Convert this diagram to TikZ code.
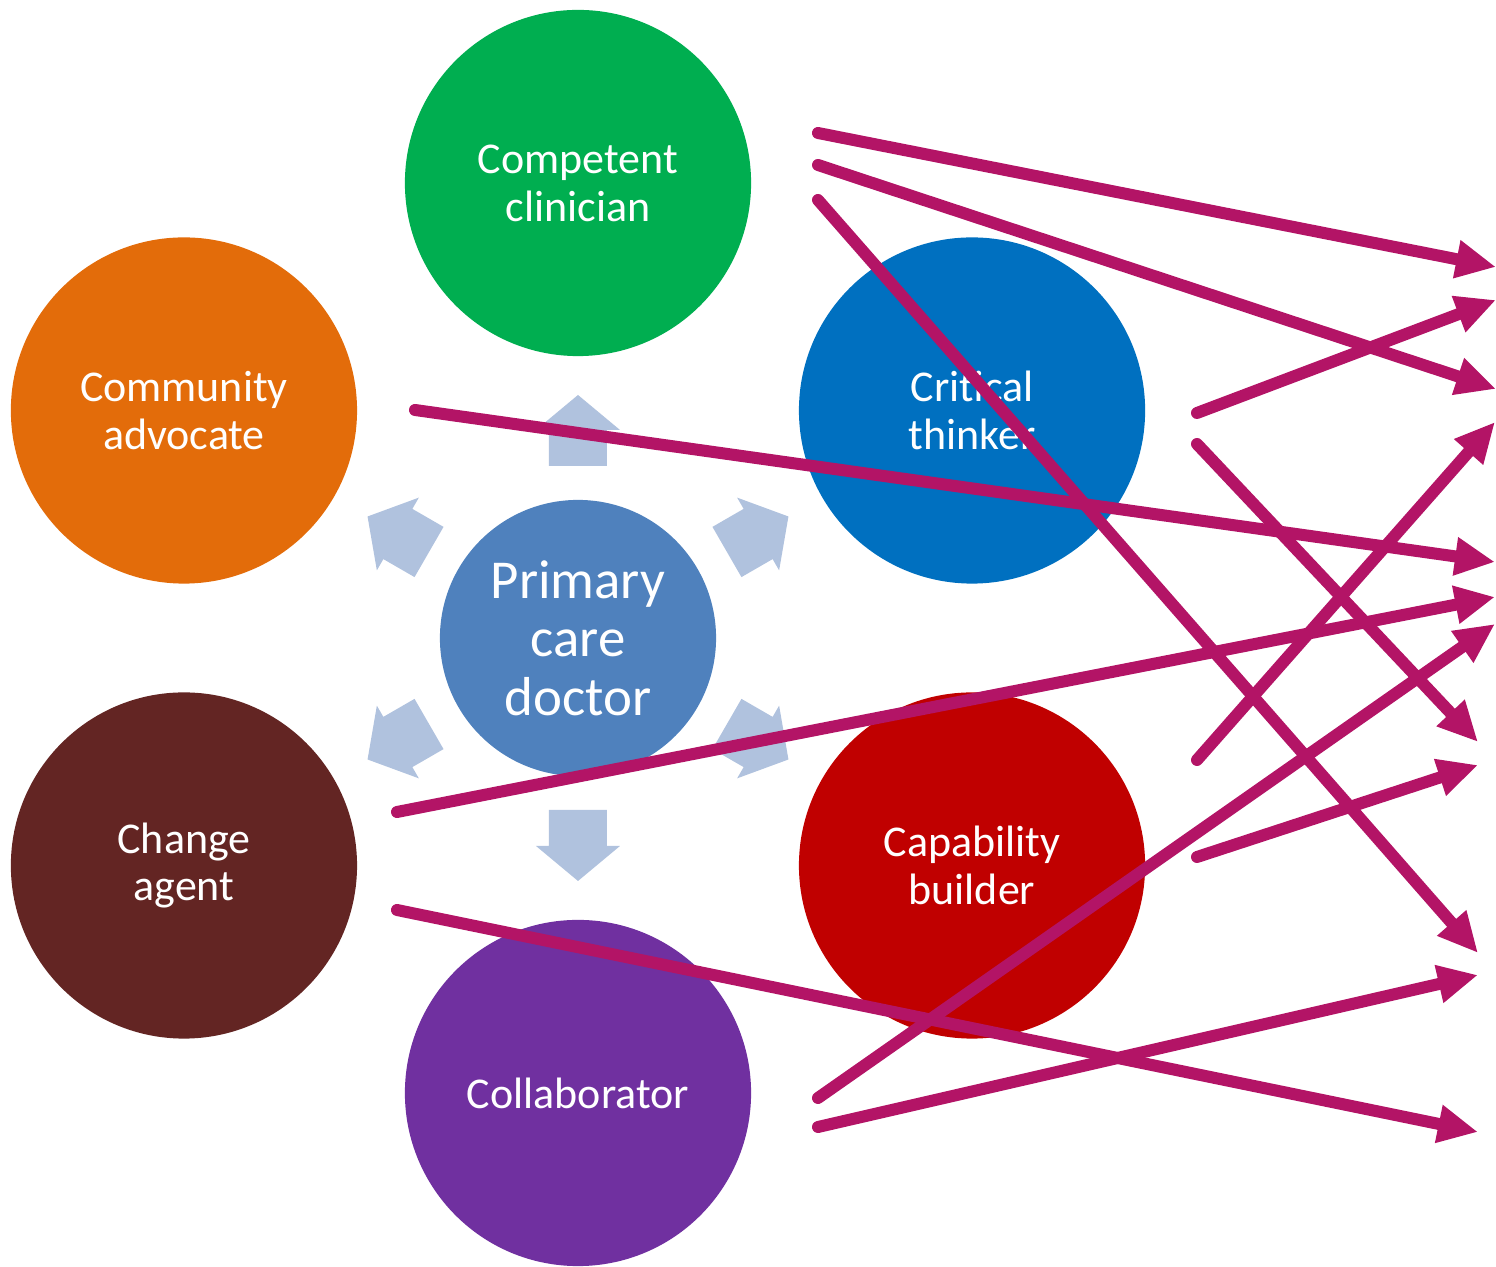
\documentclass[tikz,border=0pt]{standalone}
\usepackage{fontspec}
\setmainfont{Carlito}
\usepackage{tikz}
\usetikzlibrary{shapes,arrows.meta,positioning}

\definecolor{clinicianGreen}{HTML}{00AE50}
\definecolor{thinkerBlue}{HTML}{0070C0}
\definecolor{builderRed}{HTML}{C00000}
\definecolor{collabPurple}{HTML}{7030A0}
\definecolor{agentBrown}{HTML}{632523}
\definecolor{advocateOrange}{HTML}{E36C0A}
\definecolor{doctorBlue}{HTML}{4F81BD}
\definecolor{spokeBlue}{HTML}{B0C2DE}
\definecolor{linkMagenta}{HTML}{B31466}

\tikzstyle{role} = [circle, minimum size=3.46cm, inner sep=0pt, text=white,
    align=center, font=\fontsize{12.5}{13.6}\selectfont]
\tikzstyle{hub} = [circle, fill=doctorBlue, minimum size=2.76cm, inner sep=0pt,
    text=white, align=center, font=\fontsize{15.6}{16.6}\selectfont]
\tikzstyle{spoke} = [fill=spokeBlue]
\tikzstyle{link} = [draw=linkMagenta, line width=0.12cm, line cap=round,
    -{Triangle[length=0.4cm, width=0.36cm]}]

\begin{document}
\begin{tikzpicture}[x=0.01cm, y=0.01cm]
    \useasboundingbox (-578,-629) rectangle (918,638);

    % outward block arrows round the hub
    \foreach \a in {90,30,-30,-90,-150,150}
        \path[spoke, rotate=\a] (172,-29) -- (208,-29) -- (208,-42) -- (243,0)
            -- (208,42) -- (208,29) -- (172,29) -- cycle;

    \node[hub] (doctor) at (0,0) {Primary\\care\\doctor};

    \node[role, fill=clinicianGreen] (clinician) at (90:455) {Competent\\clinician};
    \node[role, fill=thinkerBlue] (thinker) at (30:455) {Critical\\thinker};
    \node[role, fill=builderRed] (builder) at (-30:455) {Capability\\builder};
    \node[role, fill=collabPurple] (collaborator) at (-90:455) {Collaborator};
    \node[role, fill=agentBrown] (changeAgent) at (-150:455) {Change\\agent};
    \node[role, fill=advocateOrange] (advocate) at (150:455) {Community\\advocate};

    % loose ends of the links
    \coordinate (from1) at (240,505);   \coordinate (to1) at (918,371);
    \coordinate (from2) at (240,473);   \coordinate (to2) at (918,249);
    \coordinate (from3) at (240,438);   \coordinate (to3) at (900,-315);
    \coordinate (from4) at (619,225);   \coordinate (to4) at (918,338);
    \coordinate (from5) at (619,194);   \coordinate (to5) at (900,-104);
    \coordinate (from6) at (-163,228);  \coordinate (to6) at (917,76);
    \coordinate (from7) at (-181,-174); \coordinate (to7) at (917,41);
    \coordinate (from8) at (619,-122);  \coordinate (to8) at (917,216);
    \coordinate (from9) at (240,-460);  \coordinate (to9) at (917,14);
    \coordinate (from10) at (619,-219); \coordinate (to10) at (900,-127);
    \coordinate (from11) at (240,-489); \coordinate (to11) at (900,-337);
    \coordinate (from12) at (-181,-272); \coordinate (to12) at (900,-494);

    \foreach \i in {1,...,12}
        \path[link] (from\i) -- (to\i);
\end{tikzpicture}
\end{document}
